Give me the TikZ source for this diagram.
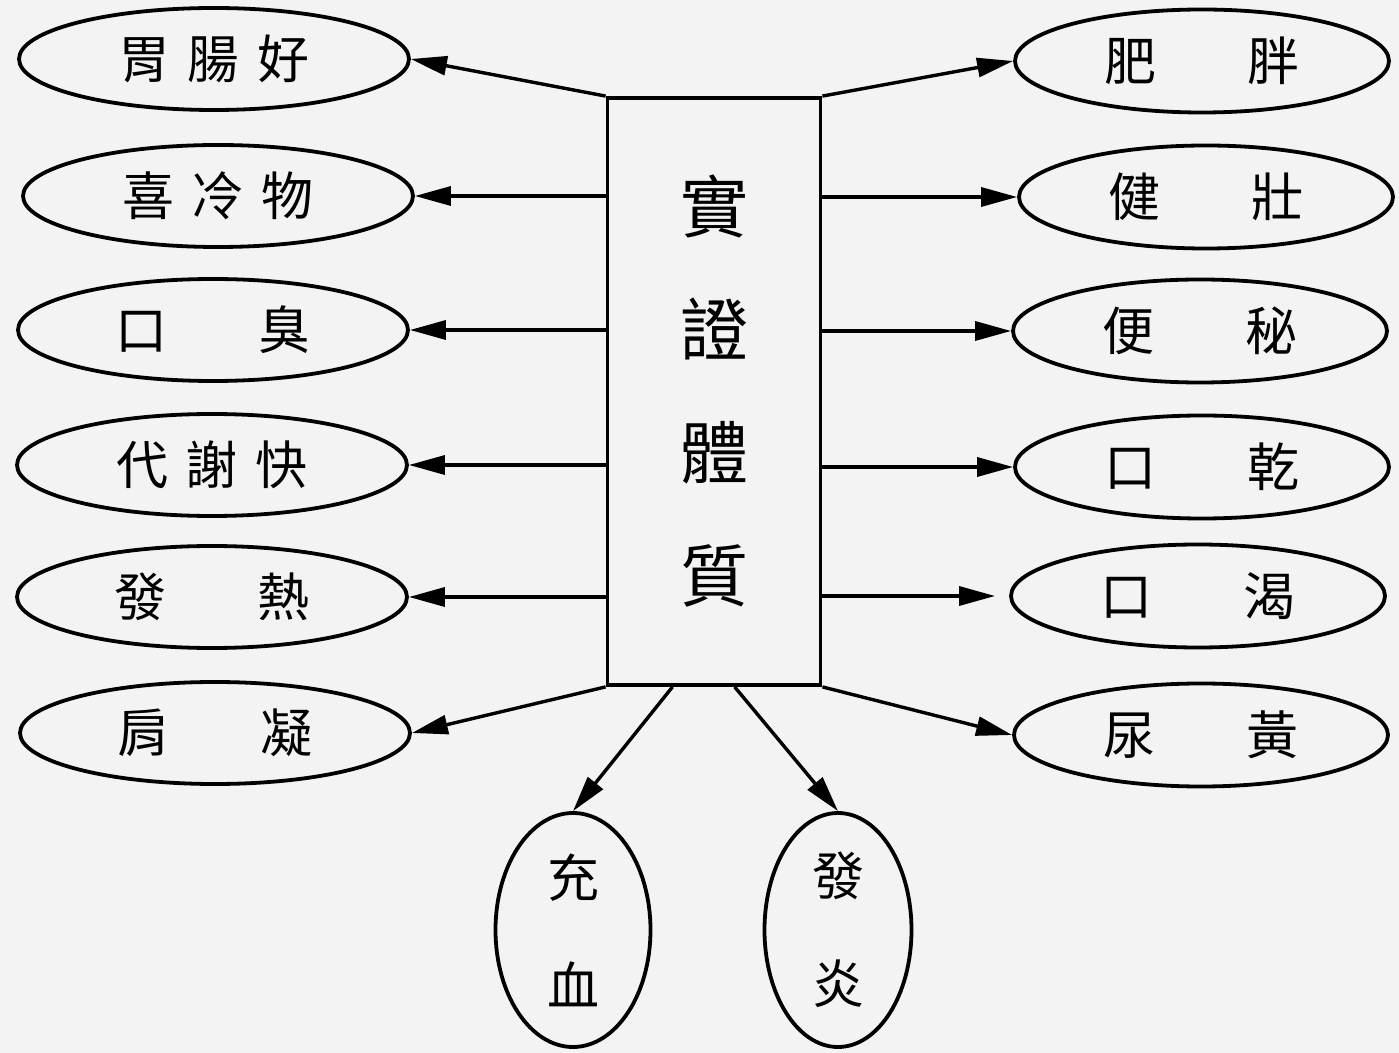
\documentclass[tikz,border=0pt]{standalone}
\usepackage{fontspec}
\newfontfamily\cjk{Noto Sans CJK TC}
\usetikzlibrary{shapes.geometric,arrows.meta}
\definecolor{bg}{RGB}{243,243,243}
\newcommand\threech[3]{#1\hspace{9pt}#2\hspace{9pt}#3}
\newcommand\twoch[2]{#1\hspace{45.5pt}#2}
\begin{document}
\begin{tikzpicture}[x=0.5pt,y=-0.5pt,
  lab/.style={ellipse,draw,line width=1.9pt,inner sep=0pt,
    font=\cjk\fontsize{26}{26}\selectfont},
  leftlab/.style={lab,minimum width=195pt,minimum height=51pt},
  rightlab/.style={lab,minimum width=187pt,minimum height=51.5pt},
  vlab/.style={lab,minimum height=117pt,align=center,
    font=\cjk\fontsize{26}{54}\selectfont},
  mainbox/.style={rectangle,draw,line width=1.9pt,inner sep=0pt,
    minimum width=106.5pt,minimum height=293.5pt,align=center,
    font=\cjk\fontsize{34}{61.5}\selectfont},
  arr/.style={line width=1.7pt,-{Triangle[length=18pt,width=9.5pt]}}]
\fill[bg] (0,0) rectangle (1399,1053);
\useasboundingbox (0,0) rectangle (1399,1053);
% central box
\node[mainbox] (box) at (714,391.5) {實\\證\\體\\質};
% left labels
\node[leftlab] (l1) at (214,59)  {\threech{胃}{腸}{好}};
\node[leftlab] (l2) at (218,196) {\threech{喜}{冷}{物}};
\node[leftlab] (l3) at (213,330) {\twoch{口}{臭}};
\node[leftlab] (l4) at (212,465) {\threech{代}{謝}{快}};
\node[leftlab] (l5) at (212,597) {\twoch{發}{熱}};
\node[leftlab] (l6) at (215,733) {\twoch{肩}{凝}};
% right labels
\node[rightlab] (r1) at (1202,61)  {\twoch{肥}{胖}};
\node[rightlab] (r2) at (1206,197) {\twoch{健}{壯}};
\node[rightlab] (r3) at (1200,331) {\twoch{便}{秘}};
\node[rightlab] (r4) at (1202,467) {\twoch{口}{乾}};
\node[rightlab] (r5) at (1198,596) {\twoch{口}{渴}};
\node[rightlab] (r6) at (1201,735) {\twoch{尿}{黃}};
% bottom labels
\node[vlab,minimum width=77.5pt] (b1) at (573,930) {充\\血};
\node[vlab,minimum width=73.5pt] (b2) at (838,930) {發\\炎};
% connectors left
\draw[arr] (box.north west) -- (l1.east);
\draw[arr] (box.west |- l2) -- (l2.east);
\draw[arr] (box.west |- l3) -- (l3.east);
\draw[arr] (box.west |- l4) -- (l4.east);
\draw[arr] (box.west |- l5) -- (l5.east);
\draw[arr] (box.south west) -- (l6.east);
% connectors right
\draw[arr] (box.north east) -- (r1.west);
\draw[arr] (box.east |- r2) -- (r2.west);
\draw[arr] (box.east |- r3) -- (r3.west);
\draw[arr] (box.east |- r4) -- (r4.west);
\draw[arr,shorten >=7pt] (box.east |- r5) -- (r5.west);
\draw[arr] (box.south east) -- (r6.west);
% connectors bottom
\draw[arr] (box.-98) -- (b1.north);
\draw[arr] (box.-86.5) -- (b2.north);
\end{tikzpicture}
\end{document}
